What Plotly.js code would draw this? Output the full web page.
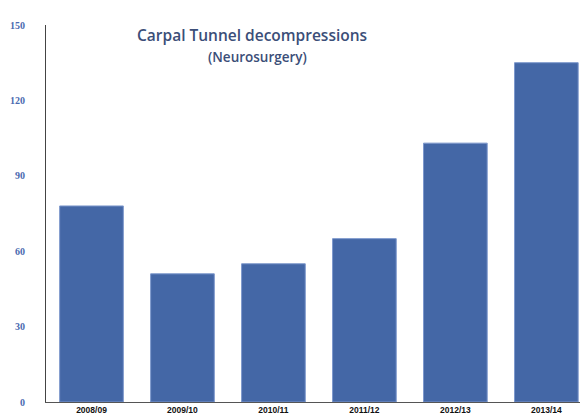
<!DOCTYPE html>
<html>
<head>
<meta charset="utf-8">
<script src="https://cdn.plot.ly/plotly-3.0.1.min.js"></script>
<style>html,body{margin:0;padding:0;background:#fff;}#chart{width:580px;height:417px;}</style>
</head>
<body>
<div id="chart"></div>
<script>
const categories = ["2008/09", "2009/10", "2010/11", "2011/12", "2012/13", "2013/14"];
const values = [78, 51, 55, 65, 103, 135];
const yTicks = [0, 30, 60, 90, 120, 150];
const titleLine1 = "Carpal Tunnel decompressions";
const titleLine2 = "(Neurosurgery)";

const trace = {
  type: "bar",
  x: categories,
  y: values,
  width: 0.7,
  marker: {color: "#4467a6", line: {color: "#7d98cc", width: 1}},
  hoverinfo: "x+y"
};

const layout = {
  width: 580,
  height: 417,
  margin: {l: 46, r: 0, t: 25, b: 15, pad: 0},
  paper_bgcolor: "#ffffff",
  plot_bgcolor: "#ffffff",
  showlegend: false,
  xaxis: {
    type: "category",
    range: [-0.5, 5.37],
    showgrid: false,
    zeroline: false,
    showline: true,
    linecolor: "#555555",
    linewidth: 1,
    ticks: "",
    tickfont: {family: "Liberation Sans", size: 8.5, color: "#111111", weight: "bold"},
    ticklabelstandoff: 0
  },
  yaxis: {
    range: [0, 150],
    tickvals: yTicks,
    ticktext: yTicks.map(String),
    showgrid: false,
    zeroline: false,
    showline: true,
    linecolor: "#444444",
    linewidth: 1,
    ticks: "",
    ticklabelstandoff: 18,
    tickfont: {family: "Liberation Serif", size: 10, color: "#4a69b0", weight: "bold"}
  },
  annotations: [
    {text: titleLine1, xref: "paper", yref: "paper", x: (252 - 46) / 534, y: (402 - 35) / 377,
     xanchor: "center", yanchor: "middle", showarrow: false,
     font: {family: "Open Sans", size: 15.5, color: "#3b4e78", weight: 600}},
    {text: titleLine2, xref: "paper", yref: "paper", x: (257 - 46) / 534, y: (402 - 57) / 377,
     xanchor: "center", yanchor: "middle", showarrow: false,
     font: {family: "Open Sans", size: 13.5, color: "#3b4e78", weight: 600}}
  ]
};

Plotly.newPlot("chart", [trace], layout, {displayModeBar: false, staticPlot: true});
</script>
</body>
</html>
